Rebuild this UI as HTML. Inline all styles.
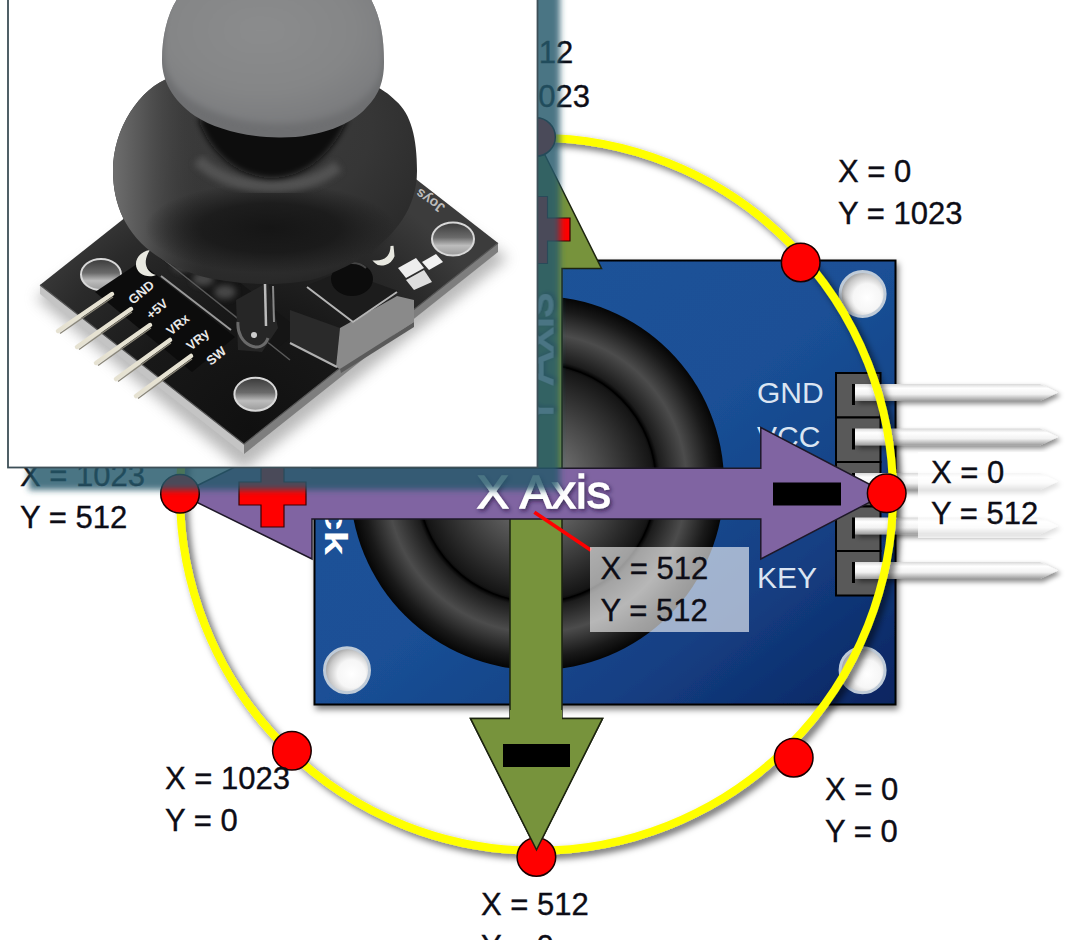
<!DOCTYPE html>
<html><head><meta charset="utf-8">
<style>
html,body{margin:0;padding:0;background:#fff;}
body{width:1080px;height:940px;overflow:hidden;position:relative;}
svg{position:absolute;left:0;top:0;}
text{font-family:"Liberation Sans",sans-serif;}
.lb{font-size:31px;fill:#0d0d16;stroke:#0d0d16;stroke-width:0.35px;}
.wl{font-size:30px;fill:#dbe5f2;}
</style></head>
<body>
<svg width="1080" height="940" viewBox="0 0 1080 940">
<defs>
  <filter id="sh" x="-20%" y="-20%" width="140%" height="140%">
    <feDropShadow dx="3" dy="3" stdDeviation="2.5" flood-color="#000" flood-opacity="0.45"/>
  </filter>
  <filter id="shy" x="-20%" y="-20%" width="140%" height="140%">
    <feDropShadow dx="4" dy="4" stdDeviation="3.5" flood-color="#000" flood-opacity="0.6"/>
  </filter>
  <filter id="sht" x="-20%" y="-30%" width="140%" height="160%">
    <feDropShadow dx="1.5" dy="2" stdDeviation="2" flood-color="#1a0a30" flood-opacity="0.7"/>
  </filter>
  <filter id="shb" x="-10%" y="-10%" width="120%" height="120%">
    <feDropShadow dx="2" dy="4" stdDeviation="3" flood-color="#000" flood-opacity="0.5"/>
  </filter>
  <linearGradient id="blue" x1="0" y1="0" x2="1" y2="1">
    <stop offset="0" stop-color="#1c5399"/>
    <stop offset="0.5" stop-color="#1a5096"/>
    <stop offset="0.75" stop-color="#143f83"/>
    <stop offset="1" stop-color="#0a2460"/>
  </linearGradient>
  <radialGradient id="hole" cx="0.6" cy="0.58" r="0.62">
    <stop offset="0" stop-color="#fff"/>
    <stop offset="0.5" stop-color="#f6f6f6"/>
    <stop offset="0.8" stop-color="#c8c8c8"/>
    <stop offset="1" stop-color="#9a9a9a"/>
  </radialGradient>
  <radialGradient id="ring" cx="537" cy="483" r="187" gradientUnits="userSpaceOnUse">
    <stop offset="0" stop-color="#8a8a8a"/>
    <stop offset="0.35" stop-color="#4a4a4a"/>
    <stop offset="0.62" stop-color="#151515"/>
    <stop offset="0.64" stop-color="#050505"/>
    <stop offset="0.66" stop-color="#1c1c1c"/>
    <stop offset="0.8" stop-color="#4c4c4c"/>
    <stop offset="0.93" stop-color="#191919"/>
    <stop offset="1" stop-color="#050505"/>
  </radialGradient>
  <linearGradient id="pin" x1="0" y1="0" x2="0" y2="1">
    <stop offset="0" stop-color="#d8d8d8"/>
    <stop offset="0.25" stop-color="#ffffff"/>
    <stop offset="0.6" stop-color="#f2f2f2"/>
    <stop offset="1" stop-color="#9a9a9a"/>
  </linearGradient>
</defs>

<!-- Blue board -->
<rect x="314.5" y="260.5" width="581" height="444" fill="url(#blue)" stroke="#000" stroke-width="2" filter="url(#shb)"/>
<!-- holes -->
<g stroke="#bfcbd8" stroke-width="3" fill="url(#hole)">
  <circle cx="347" cy="294" r="22.5"/>
  <circle cx="862.6" cy="294" r="22.5"/>
  <circle cx="347" cy="670.2" r="22.5"/>
  <circle cx="862.6" cy="670.3" r="22.5"/>
</g>
<text transform="translate(325,555) rotate(90) scale(1.42,1)" font-size="31" font-weight="bold" fill="#fff" text-anchor="end">Joystick</text>
<!-- joystick -->
<circle cx="537" cy="483" r="187" fill="url(#ring)"/>
<circle cx="537" cy="483" r="119" fill="none" stroke="#000" stroke-width="1.5"/>

<!-- header -->
<g fill="#595959" stroke="#000" stroke-width="2">
  <rect x="836" y="373" width="44.5" height="44.5"/>
  <rect x="836" y="417.5" width="44.5" height="44.5"/>
  <rect x="836" y="462" width="44.5" height="44.5"/>
  <rect x="836" y="506.5" width="44.5" height="44.5"/>
  <rect x="836" y="551" width="44.5" height="44.5"/>
</g>
<g fill="#000">
  <rect x="852" y="384" width="3" height="21"/>
  <rect x="852" y="428.5" width="3" height="21"/>
  <rect x="852" y="473" width="3" height="21"/>
  <rect x="852" y="517.5" width="3" height="21"/>
  <rect x="852" y="562" width="3" height="21"/>
</g>
<g fill="url(#pin)" filter="url(#sh)">
  <path d="M855 384 H1040 L1058 392.5 L1040 401 H855 Z"/>
  <path d="M855 428.5 H1040 L1058 437 L1040 445.5 H855 Z"/>
  <path d="M855 473 H1040 L1058 481.5 L1040 490 H855 Z"/>
  <path d="M855 517.5 H1040 L1058 526 L1040 534.5 H855 Z"/>
  <path d="M855 562 H1040 L1058 570.5 L1040 579 H855 Z"/>
</g>

<!-- labels on board -->
<text class="wl" x="757" y="402.6">GND</text>
<text class="wl" x="757" y="446.6">VCC</text>
<text class="wl" x="757" y="588.4">KEY</text>

<!-- yellow circle -->
<circle cx="536.5" cy="494.2" r="356.5" fill="none" stroke="#ffff00" stroke-width="8" filter="url(#shy)"/>

<!-- green arrow -->
<path d="M536 137 L601.5 268.4 L562 268.4 L562 718.4 L602.6 718.4 L536.5 849.8 L470.5 718.4 L510 718.4 L510 268.4 L471 268.4 Z" fill="#77933c" stroke="#1d2410" stroke-width="1.5" stroke-linejoin="miter"/>
<!-- purple arrow -->
<path d="M180 494 L312 429 L312 468.3 L760.8 468.3 L760.8 427.5 L886.7 493.3 L760.8 559 L760.8 519 L312 519 L312 559 Z" fill="#8064a2" stroke="#1e1828" stroke-width="1.5"/>

<!-- plus / minus -->
<path d="M261 460 H284 V482 H306 V505 H284 V527 H261 V505 H239 V482 H261 Z" fill="#ff0000" stroke="#3a0000" stroke-width="1.2"/>
<path d="M524.5 196.5 H547.5 V218 H570 V241 H547.5 V263.5 H524.5 V241 H502 V218 H524.5 Z" fill="#ff0000" stroke="#3a0000" stroke-width="1.2"/>
<rect x="773" y="482.5" width="68" height="23" fill="#000"/>
<rect x="503" y="744" width="67" height="23" fill="#000"/>

<!-- X Axis text -->
<text x="476.8" y="508" font-size="46" fill="#fff" stroke="#fff" stroke-width="1.3" textLength="134" lengthAdjust="spacingAndGlyphs" filter="url(#sht)">X Axis</text>

<text transform="translate(552.5,427) rotate(-90)" font-size="46" fill="#fff" stroke="#fff" stroke-width="1.3" textLength="134" lengthAdjust="spacingAndGlyphs" filter="url(#sht)">Y Axis</text>
<!-- red dots -->
<g fill="#ff0000" stroke="#1a0000" stroke-width="1.5">
  <circle cx="536" cy="137" r="19.3"/>
  <circle cx="800.7" cy="262.5" r="19.3"/>
  <circle cx="886.7" cy="493.3" r="19.3"/>
  <circle cx="793.7" cy="757.7" r="19.3"/>
  <circle cx="536.4" cy="857" r="19.3"/>
  <circle cx="291.9" cy="750.8" r="19.3"/>
  <circle cx="180" cy="493.7" r="19.3"/>
</g>
<!-- green arrow tip over bottom dot -->
<path d="M510 710 V718.4 H470.5 L536.5 849.8 L602.6 718.4 H562 V710 Z" fill="#77933c"/>
<path d="M510 718.4 H470.5 L536.5 849.8 L602.6 718.4 H562" fill="none" stroke="#1d2410" stroke-width="1.5"/>
<rect x="503" y="744" width="67" height="23" fill="#000"/>

<!-- centre label -->
<line x1="534.4" y1="512.2" x2="591" y2="550.3" stroke="#ff0000" stroke-width="3.6"/>
<rect x="590" y="547" width="159" height="85" fill="#ffffff" fill-opacity="0.6"/>

<!-- right label box -->
<rect x="918" y="452" width="150" height="86" fill="#ffffff" fill-opacity="0.72"/>

<!-- labels -->
<g class="lb">
  <text x="600.5" y="579.4">X = 512</text><text x="600.5" y="621.1">Y = 512</text>
  <text x="465.5" y="62.6">X = 512</text><text x="465.5" y="106.6">Y = 1023</text>
  <text x="838" y="181.8">X = 0</text><text x="838" y="223.9">Y = 1023</text>
  <text x="931" y="482.6">X = 0</text><text x="931" y="524.2">Y = 512</text>
  <text x="20" y="486.4">X = 1023</text><text x="20" y="528.4">Y = 512</text>
  <text x="165" y="789.3">X = 1023</text><text x="165" y="831.3">Y = 0</text>
  <text x="825" y="800.2">X = 0</text><text x="825" y="841.9">Y = 0</text>
  <text x="481" y="915.1">X = 512</text><text x="481" y="957">Y = 0</text>
</g>

<!-- teal overlay -->
<g filter="url(#tb)">
  <rect x="29" y="-10" width="531" height="500" fill="#24596b" fill-opacity="0.83"/>
</g>
<defs><filter id="tb" x="-5%" y="-5%" width="110%" height="110%"><feGaussianBlur stdDeviation="3"/></filter></defs>

<!-- photo panel -->
<rect x="8" y="-2" width="529.5" height="469.5" fill="#fff" stroke="#3d4f57" stroke-width="1.8"/>
<defs>
  <clipPath id="pc"><rect x="9" y="0" width="527.5" height="466.6"/></clipPath>
  <filter id="bl6" x="-20%" y="-20%" width="140%" height="140%"><feGaussianBlur stdDeviation="7"/></filter>
  <filter id="bl3" x="-20%" y="-20%" width="140%" height="140%"><feGaussianBlur stdDeviation="3"/></filter>
  <filter id="bl1" x="-20%" y="-20%" width="140%" height="140%"><feGaussianBlur stdDeviation="1"/></filter>
  <radialGradient id="pcb" cx="250" cy="430" r="270" gradientUnits="userSpaceOnUse">
    <stop offset="0" stop-color="#101010"/>
    <stop offset="0.45" stop-color="#181818"/>
    <stop offset="0.8" stop-color="#2a2a2a"/>
    <stop offset="1" stop-color="#3c3c3c"/>
  </radialGradient>
  <radialGradient id="dome" cx="0.45" cy="0.3" r="0.8">
    <stop offset="0" stop-color="#3c3c3c"/>
    <stop offset="0.5" stop-color="#363636"/>
    <stop offset="0.85" stop-color="#2a2a2a"/>
    <stop offset="1" stop-color="#1c1c1c"/>
  </radialGradient>
  <radialGradient id="dkb" cx="0.5" cy="0.5" r="0.5">
    <stop offset="0" stop-color="#121212" stop-opacity="0.9"/>
    <stop offset="0.55" stop-color="#121212" stop-opacity="0.7"/>
    <stop offset="1" stop-color="#121212" stop-opacity="0"/>
  </radialGradient>
  <linearGradient id="domeL" x1="0" y1="0" x2="1" y2="0">
    <stop offset="0" stop-color="#6e6e6e"/>
    <stop offset="0.1" stop-color="#555"/>
    <stop offset="0.3" stop-color="#3a3a3a" stop-opacity="0"/>
  </linearGradient>
  <radialGradient id="cap" cx="0.45" cy="0.35" r="0.7">
    <stop offset="0" stop-color="#8b8c8d"/>
    <stop offset="0.6" stop-color="#858687"/>
    <stop offset="0.9" stop-color="#7c7d7f"/>
    <stop offset="1" stop-color="#747577"/>
  </radialGradient>
  <linearGradient id="phole" x1="0" y1="0" x2="0" y2="1">
    <stop offset="0" stop-color="#3a3a3a"/>
    <stop offset="0.45" stop-color="#6a6a6a"/>
    <stop offset="0.7" stop-color="#bdbdbd"/>
    <stop offset="1" stop-color="#9a9a9a"/>
  </linearGradient>
</defs>
<g id="photo" clip-path="url(#pc)">
  <!-- soft shadow under board -->
  <path d="M36 298 L244 470 L508 258 L290 110 Z" fill="#8a8a8a" opacity="0.6" filter="url(#bl6)"/>
  <!-- board side -->
  <path d="M40 285 L244 444 L244 454 L40 294 Z" fill="#c4c4c4"/>
  <path d="M244 444 L498 243 L498 252 L244 454 Z" fill="#7e7e7e"/>
  <!-- board top -->
  <path d="M40 285 L244 444 L498 243 L294 84 Z" fill="url(#pcb)"/>
  <path d="M40 285 L244 444 L498 243" fill="none" stroke="#555" stroke-width="1.2"/>
  <!-- holes -->
  <g stroke="#d8d8d8" stroke-width="2" fill="url(#phole)">
    <ellipse cx="101" cy="274.5" rx="20" ry="15.5"/>
    <ellipse cx="255.4" cy="394.2" rx="21" ry="16.5"/>
    <ellipse cx="453" cy="239" rx="21" ry="16.5"/>
  </g>
  <!-- header block -->
  <path d="M95 292 L140 262 L235 337 L192 372 Z" fill="#0c0c0c"/>
  <path d="M150 250 L176 232 L300 330 L275 350 Z" fill="#151515"/>
  <path d="M158 255 L290 360" stroke="#777" stroke-width="1.5" opacity="0.7"/>
  <!-- pins -->
  <g stroke="#e6e2d2" stroke-width="4.5" stroke-linecap="round">
    <line x1="58" y1="331" x2="112" y2="294"/>
    <line x1="77" y1="347" x2="131" y2="309"/>
    <line x1="96" y1="363" x2="150" y2="325"/>
    <line x1="116" y1="379" x2="170" y2="340"/>
    <line x1="136" y1="396" x2="191" y2="356"/>
  </g>
  <g stroke="#8a8678" stroke-width="1.3">
    <line x1="60" y1="333.5" x2="113" y2="297"/>
    <line x1="79" y1="349.5" x2="132" y2="312"/>
    <line x1="98" y1="365.5" x2="151" y2="328"/>
    <line x1="118" y1="381.5" x2="171" y2="343"/>
    <line x1="138" y1="398.5" x2="192" y2="359"/>
  </g>
  <!-- pcb labels -->
  <g fill="#e8e8e8" font-family="Liberation Sans, sans-serif" font-weight="bold" font-size="13">
    <text transform="translate(133,305) rotate(-40)">GND</text>
    <text transform="translate(151,320) rotate(-40)">+5V</text>
    <text transform="translate(171,336) rotate(-40)">VRx</text>
    <text transform="translate(191,351) rotate(-40)">VRy</text>
    <text transform="translate(211,366) rotate(-40)">SW</text>
  </g>
  <!-- switch -->
  <path d="M290 310 L340 328 L336 367 L290 343 Z" fill="#2a2a2a"/>
  <path d="M340 328 L397 296 L414 300 L414 322 L340 369 L336 367 Z" fill="#8a8a8a"/>
  <path d="M340 369 L414 322 L414 327 L341 373 Z" fill="#5a5a5a"/>
  <path d="M290 343 L337 367" stroke="#b0b0b0" stroke-width="2"/>
  <path d="M306 286 L342 271 L398 291 L353 323 Z" fill="#1c1c1c"/>
  <path d="M307 287 L353 322 L397 292" fill="none" stroke="#b4b4b4" stroke-width="2"/>
  <ellipse cx="352" cy="279" rx="21" ry="17" fill="#0c0c0c"/>
  <path d="M336 270 C340 262 358 260 366 268" fill="none" stroke="#444" stroke-width="2"/>
  <!-- crescents -->
  <path d="M150 250 C136 252 132 266 140 273 C145 277 152 277 156 275 C146 272 142 262 150 250 Z" fill="#e8e8e0"/>
  <path d="M392 246 C392 256 386 262 376 262 C380 266 390 264 393 256 Z" fill="#e8e8e0" stroke="#e8e8e0" stroke-width="3"/>
  <text transform="translate(446,206) rotate(215)" font-family="Liberation Sans, sans-serif" font-size="14" font-weight="bold" fill="#bbb">Joys</text>
  <!-- smd -->
  <path d="M398 268 L416 258 L424 268 L406 278 Z" fill="#eee"/>
  <path d="M406 280 L424 270 L432 282 L414 290 Z" fill="#ddd"/>
  <path d="M422 262 L436 254 L443 262 L429 270 Z" fill="#f2f2f2"/>
  <!-- light edges -->
  <path d="M161 276 L231 330" stroke="#999" stroke-width="2"/>
  <!-- gray blobs -->
  <g fill="#555" opacity="0.8" filter="url(#bl3)">
    <ellipse cx="183" cy="266" rx="10" ry="6"/>
    <ellipse cx="203" cy="279" rx="11" ry="7"/>
    <ellipse cx="225" cy="292" rx="11" ry="7"/>
  </g>
  <!-- shaft -->
  <path d="M236 300 L268 282 L278 328 L262 352 L238 350 Z" fill="#262626"/>
  <path d="M265 284 L266 326" stroke="#bbb" stroke-width="2.5"/>
  <path d="M273 286 L274 322" stroke="#888" stroke-width="2"/>
  <path d="M238 322 C236 345 262 356 268 338" fill="none" stroke="#6a6a6a" stroke-width="3"/>
  <circle cx="254" cy="335" r="3" fill="#ccc"/>
  <!-- dome -->
  <path id="domep" d="M171,77 C140,88 113,128 113,171 C113,215 135,255 197,275 C230,285 290,288 321,277 C370,260 417,225 417,171 C417,138 411,114 396,101 C389,94 381,88 370,84 L300,60 Z" fill="url(#dome)"/>
  <path d="M171,77 C140,88 113,128 113,171 C113,215 135,255 197,275 C230,285 290,288 321,277 C370,260 417,225 417,171 C417,138 411,114 396,101 C389,94 381,88 370,84 L300,60 Z" fill="url(#domeL)"/>
  <ellipse cx="270" cy="228" rx="125" ry="45" fill="url(#dkb)"/>
  <path d="M198 160 C230 192 300 197 338 166" fill="none" stroke="#5e5e5e" stroke-width="12" opacity="0.7" filter="url(#bl3)"/>
  <!-- neck shadow -->
  <path d="M198 118 C212 160 245 178 272 178 C300 178 330 160 348 118 Z" fill="#0c0c0c" filter="url(#bl3)"/>
  <!-- cap -->
  <clipPath id="capc"><path d="M181,-6 C169,8 162,33 162,60 C162,80 172,100 195,116 C215,129 245,137 279,137.5 C320,138 352,124 366,108 C380,94 384,80 384,62 C384,35 380,14 368,-6 Z"/></clipPath>
  <path d="M181,-6 C169,8 162,33 162,60 C162,80 172,100 195,116 C215,129 245,137 279,137.5 C320,138 352,124 366,108 C380,94 384,80 384,62 C384,35 380,14 368,-6 Z" fill="#6e6f71"/>
  <g clip-path="url(#capc)"><path d="M180,-20 C165,0 163,30 163,52 C163,72 175,92 198,104 C218,116 248,124 279,124 C320,124 350,112 364,98 C378,86 383,72 383,54 C383,30 380,0 375,-20 Z" fill="url(#cap)" filter="url(#bl3)"/></g>
</g>
</svg>
</body></html>
